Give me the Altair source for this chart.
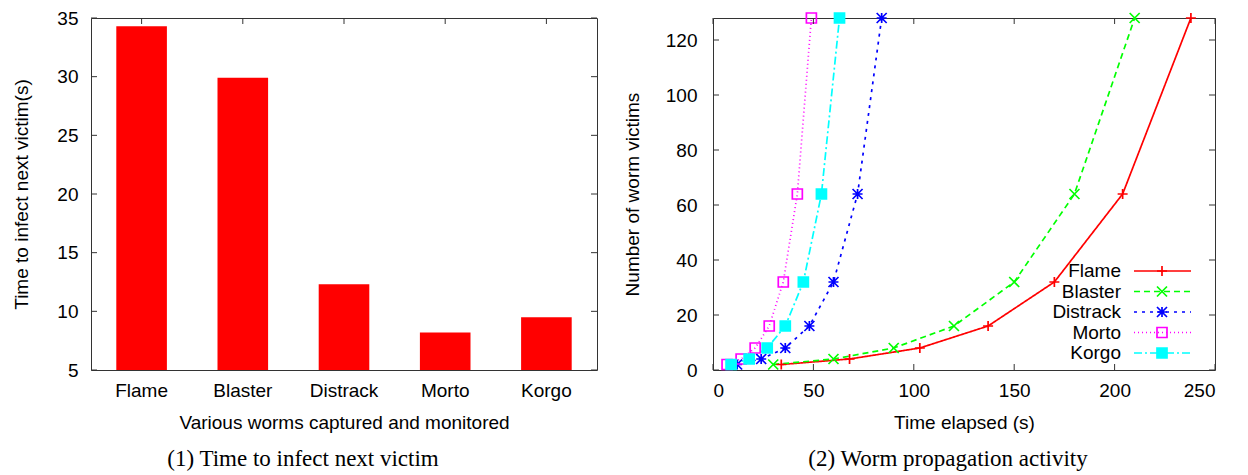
import altair as alt
import pandas as pd

# ---------------- data ----------------
worms = ["Flame", "Blaster", "Distrack", "Morto", "Korgo"]
infect_time = [34.3, 29.9, 12.3, 8.2, 9.5]

victims = [2, 4, 8, 16, 32, 64, 128]
flame_t = [34, 68, 103, 137, 170, 204, 238]
blaster_t = [30, 60, 90, 120, 150, 180, 210]
distrack_t = [12, 24, 36, 48, 60, 72, 84]
morto_t = [7, 14, 21, 28, 35, 42, 49]
korgo_t = [9, 18, 27, 36, 45, 54, 63]

bar_y_ticks = [5, 10, 15, 20, 25, 30, 35]
prop_x_ticks = [0, 50, 100, 150, 200, 250]
prop_y_ticks = [0, 20, 40, 60, 80, 100, 120]

series = ["Flame", "Blaster", "Distrack", "Morto", "Korgo"]
colors = ["#ff0000", "#00ff00", "#0000ff", "#ff00ff", "#00ffff"]
dashes = [[1, 0], [6, 4], [3, 5], [1, 3], [8, 3, 2, 3]]
shapes = [
    "M-1,0L1,0M0,-1L0,1",
    "M-1,-1L1,1M-1,1L1,-1",
    "M-1,0L1,0M0,-1L0,1M-1,-1L1,1M-1,1L1,-1",
    "square",
    "square",
]
fills = ["transparent", "transparent", "transparent", "transparent", "#00ffff"]

FONT = "Liberation Sans"
SERIF = "Liberation Serif"
FS = 19
TICK = "#333333"
LW = 1.7

# ---------------- left panel: bars ----------------
W1, H1 = 506, 352
bars_df = pd.DataFrame({"worm": worms, "time": infect_time})
ytick_df = pd.DataFrame({"time": bar_y_ticks})
worm_df = pd.DataFrame({"worm": worms})

y_scale1 = alt.Scale(domain=[5, 35], zero=False, nice=False)
x_scale1 = alt.Scale(domain=worms, paddingInner=0.5, paddingOuter=0.25)
x_axis1 = alt.Axis(title="Various worms captured and monitored",
                   labelAngle=0, labelPadding=11, titlePadding=13)
y_axis1 = alt.Axis(values=bar_y_ticks, title="Time to infect next victim(s)",
                   labelPadding=13, titlePadding=25)

bars = alt.Chart(bars_df).mark_bar(color="#ff0000").encode(
    x=alt.X("worm:N", sort=worms, scale=x_scale1, axis=x_axis1),
    y=alt.Y("time:Q", scale=y_scale1, axis=y_axis1),
    y2=alt.datum(5),
)

lt_left = alt.Chart(ytick_df).mark_rule(color=TICK).encode(
    y=alt.Y("time:Q", scale=y_scale1, axis=y_axis1), x=alt.value(0), x2=alt.value(6))
lt_right = alt.Chart(ytick_df).mark_rule(color=TICK).encode(
    y=alt.Y("time:Q", scale=y_scale1, axis=y_axis1), x=alt.value(W1 - 6), x2=alt.value(W1))
lt_top = alt.Chart(worm_df).mark_rule(color=TICK).encode(
    x=alt.X("worm:N", sort=worms, scale=x_scale1, axis=x_axis1, bandPosition=0.5),
    y=alt.value(0), y2=alt.value(6))

left = alt.layer(bars, lt_left, lt_right, lt_top).properties(
    width=W1, height=H1,
    title=alt.TitleParams("(1) Time to infect next victim", orient="bottom",
                          font=SERIF, fontSize=23, fontWeight="normal",
                          color="black", anchor="middle", frame="group",
                          dx=-41, offset=16),
)

# ---------------- right panel: lines ----------------
W2, H2 = 502, 352
times = [flame_t, blaster_t, distrack_t, morto_t, korgo_t]
rows = []
for name, ts in zip(series, times):
    for t, v in zip(ts, victims):
        rows.append({"series": name, "t": t, "victims": v})
lines_df = pd.DataFrame(rows)

x_scale2 = alt.Scale(domain=[0, 250], nice=False)
y_scale2 = alt.Scale(domain=[0, 128], nice=False, zero=False)
x_axis2 = alt.Axis(values=prop_x_ticks, title="Time elapsed (s)",
                   labelPadding=11, titlePadding=13)
y_axis2 = alt.Axis(values=prop_y_ticks, title="Number of worm victims",
                   labelPadding=16, titlePadding=23)

color_enc = alt.Color("series:N", sort=series,
                      scale=alt.Scale(domain=series, range=colors), legend=None)
dash_enc = alt.StrokeDash("series:N", sort=series,
                          scale=alt.Scale(domain=series, range=dashes), legend=None)
shape_enc = alt.Shape("series:N", sort=series,
                      scale=alt.Scale(domain=series, range=shapes), legend=None)
fill_enc = alt.Fill("series:N", sort=series,
                    scale=alt.Scale(domain=series, range=fills), legend=None)

x_enc = alt.X("t:Q", scale=x_scale2, axis=x_axis2)
y_enc = alt.Y("victims:Q", scale=y_scale2, axis=y_axis2)

lines = alt.Chart(lines_df).mark_line(strokeWidth=LW).encode(
    x=x_enc, y=y_enc, color=color_enc, strokeDash=dash_enc)
pts = alt.Chart(lines_df).mark_point(filled=False, size=100, strokeWidth=LW, opacity=1).encode(
    x=x_enc, y=y_enc, color=color_enc, shape=shape_enc, fill=fill_enc)

xt_df = pd.DataFrame({"t": prop_x_ticks})
yt_df = pd.DataFrame({"victims": prop_y_ticks})
rt_bottom = alt.Chart(xt_df).mark_rule(color=TICK).encode(
    x=x_enc, y=alt.value(H2 - 6), y2=alt.value(H2))
rt_top = alt.Chart(xt_df).mark_rule(color=TICK).encode(
    x=x_enc, y=alt.value(0), y2=alt.value(6))
rt_left = alt.Chart(yt_df).mark_rule(color=TICK).encode(
    y=y_enc, x=alt.value(0), x2=alt.value(6))
rt_right = alt.Chart(yt_df).mark_rule(color=TICK).encode(
    y=y_enc, x=alt.value(W2 - 6), x2=alt.value(W2))

main = alt.layer(lines, pts, rt_bottom, rt_top, rt_left, rt_right)

# manual gnuplot-style key (label left, sample right)
legend_df = pd.DataFrame({"series": series})
leg_y = alt.Y("series:N", sort=series,
              scale=alt.Scale(type="point", range=[253, 335], padding=0), axis=None)
leg_text = alt.Chart(legend_df).mark_text(
    align="right", baseline="middle", font=FONT, fontSize=FS, color="black").encode(
    y=leg_y, x=alt.value(408), text="series:N")
leg_rule = alt.Chart(legend_df).mark_rule(strokeWidth=LW).encode(
    y=leg_y, x=alt.value(421), x2=alt.value(478), color=color_enc, strokeDash=dash_enc)
leg_pts = alt.Chart(legend_df).mark_point(filled=False, size=100, strokeWidth=LW, opacity=1).encode(
    y=leg_y, x=alt.value(449), color=color_enc, shape=shape_enc, fill=fill_enc)
legend = alt.layer(leg_rule, leg_pts, leg_text)

right = alt.layer(main, legend).resolve_scale(y="independent").properties(
    width=W2, height=H2,
    title=alt.TitleParams("(2) Worm propagation activity", orient="bottom",
                          font=SERIF, fontSize=23, fontWeight="normal",
                          color="black", anchor="middle", frame="group",
                          dx=-16, offset=16),
)

chart = alt.hconcat(left, right, spacing=24).properties(
    padding={"left": 4, "top": 0, "right": 0, "bottom": 0},
    background="white",
).configure_view(
    stroke="#333333", strokeWidth=1
).configure_axis(
    labelFont=FONT, labelFontSize=FS, labelColor="black",
    titleFont=FONT, titleFontSize=FS, titleFontWeight="normal", titleColor="black",
    grid=False, domain=False, ticks=False,
)

chart.save("out.html", embed_options={"renderer": "svg", "actions": False})
